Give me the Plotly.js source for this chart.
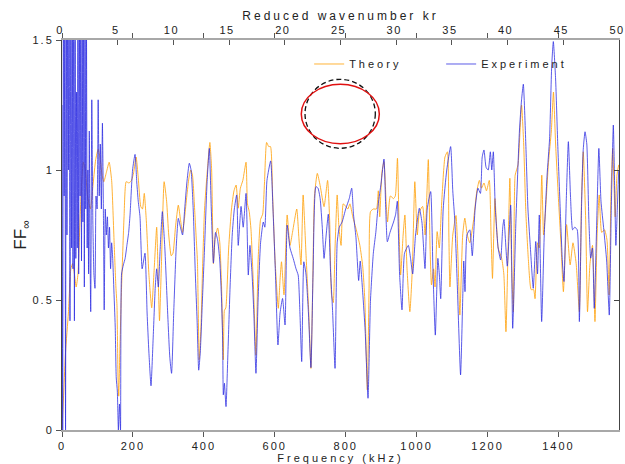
<!DOCTYPE html>
<html>
<head>
<meta charset="utf-8">
<script src="https://cdn.plot.ly/plotly-3.0.1.min.js"></script>
<style>
  body { margin: 0; padding: 0; background: #fff; }
  #chart { width: 625px; height: 464px; }
  .xtick text, .ytick text { letter-spacing: 2px; }
  .x2tick text { letter-spacing: 1.5px; }
  .g-xtitle text, .g-x2title text { letter-spacing: 3px; }
  .legendtext { letter-spacing: 3px; }
</style>
</head>
<body>
<div id="chart"></div>
<script>
// Theory curve (frequency in kHz, FF∞)
const theoryFreq = [0,5,10,18,25,30,35,40,45,52,60,66,72,80,88,95,102,108,113,118,125,133,140,147,152,155,158,160,163,168,175,181,189,196,202,209,215,222,227,232,238,245,253,260,267,271,275,280,288,295,301,308,313,320,328,334,340,346,352,358,363,368,374,380,382,387,392,397,402,410,417,422,427,432,439,445,450,455,458,462,470,478,485,491,497,503,510,519,523,528,533,540,547,553,560,566,571,577,583,588,594,601,610,615,619,626,635,643,650,662,668,674,680,688,696,702,707,712,720,728,739,749,755,760,765,770,776,781,787,793,800,806,812,820,830,840,848,854,861,866,870,878,887,892,896,902,908,914,918,926,935,940,946,951,955,962,967,973,981,988,995,1002,1008,1017,1024,1033,1038,1042,1048,1052,1058,1064,1071,1080,1087,1091,1094,1102,1111,1117,1122,1130,1136,1143,1150,1160,1170,1177,1183,1190,1197,1205,1210,1214,1221,1230,1240,1246,1252,1258,1263,1268,1273,1278,1286,1296,1302,1308,1315,1323,1330,1334,1341,1346,1353,1358,1363,1372,1380,1386,1392,1400,1407,1414,1423,1433,1441,1450,1459,1465,1470,1477,1482,1489,1496,1503,1509,1515,1522,1530,1537,1543,1548,1553,1560,1565,1570];
const theoryFF = [0,0.15,0.3,0.45,0.62,0.64,0.6,0.55,0.6,0.85,1.03,1.0,0.9,0.85,0.95,1.04,1.08,1.04,0.98,0.955,0.99,1.03,0.96,0.72,0.55,0.48,0.2,0.13,0.3,0.55,0.82,0.955,0.95,0.96,0.99,1.05,0.97,0.86,0.85,0.91,0.8,0.6,0.47,0.62,0.78,0.6,0.42,0.62,0.955,0.88,0.75,0.67,0.68,0.78,0.865,0.81,0.76,0.82,0.9,0.97,1.0,0.98,0.85,0.7,0.647,0.27,0.4,0.65,0.85,1.0,1.106,1.0,0.64,0.74,0.777,0.72,0.55,0.27,0.46,0.47,0.7,0.85,0.92,0.942,0.853,0.93,0.96,1.03,0.87,0.84,0.77,0.55,0.288,0.65,0.81,0.83,0.95,1.106,1.09,1.09,0.9,0.65,0.468,0.58,0.647,0.52,0.827,0.71,0.76,0.85,0.74,0.635,0.904,0.68,0.45,0.237,0.55,0.9,0.987,0.94,0.859,0.96,0.8,0.52,0.49,0.7,0.904,0.78,0.71,0.87,0.86,0.85,0.87,0.82,0.77,0.71,0.63,0.5,0.154,0.55,0.84,0.85,0.85,0.92,0.82,0.99,1.032,0.88,0.8,0.9,0.89,0.9,1.045,0.75,0.596,0.75,0.827,0.62,0.455,0.62,0.955,0.75,0.84,0.86,0.75,1.04,0.7,0.558,0.62,0.55,0.763,0.7,0.88,1.05,1.07,0.75,0.55,0.75,0.825,0.65,0.442,0.75,0.815,0.75,0.72,0.8,0.92,0.96,0.93,0.95,0.92,0.96,0.75,0.583,0.89,0.7,0.66,0.6,0.378,0.7,0.968,0.62,0.455,0.98,1.02,1.25,1.1,0.84,0.66,0.54,0.54,0.505,0.72,0.7,0.98,0.75,0.83,1.03,1.15,1.3,1.1,0.89,0.72,0.532,0.79,0.635,0.72,0.64,0.455,0.88,1.07,0.8,0.455,0.64,0.71,0.417,0.75,0.904,0.76,0.77,0.73,0.519,0.9,1.083,0.82,0.98,1.02];

// Experiment curve (frequency in kHz, FF∞)
const experimentFreq = [0,2,4,6,8,10,12,14,16,18,20,22.5,25,27,29,31,33,35,37,39,41,43,45,47,49,51,53,55,57,59,61,63,65,67,69,71,73,75,77,79,81,84,87,90,93,96,99,102,105,108,111,114,117,119,122,125,128,131,134,137,140,143,146,150,153,156,159,162,165,168,173,178,183,188,192,199,206,211,215,220,226,234,240,245,251,257,263,267,271.6,277,283,290,298,304,309,315,322,328,334,340,346,352,359,364,370,376,381,385.5,390,396,402,409,415.5,421,427,433,439,445,450,453,455,458,462.5,468,474,480,486,492.6,497,505,511,519,525.4,530,536,541,547,553,560,567.7,572,578,588.5,595,602,609,615,622,629,635,643,652,660,666,671,676,682,688,695,702,708,716,722,728,734,739,745,751,757,763,770,776,782,790,800,810,817,822,829,836.6,841,848,855,863,870,878,885,892,900,908,913,917.5,925,935,941,945.6,952,958.8,966,976.7,983,989,997,1007.7,1015,1023.7,1030,1039.7,1046,1052.8,1060,1064,1068,1075,1085,1096,1102,1108,1115,1124,1130,1133,1136.5,1142,1150,1157,1165,1173,1180,1185,1190,1196,1202,1208,1212,1216.4,1222,1230,1237,1243,1246.4,1255.8,1265.3,1271,1280,1290,1296,1301,1308,1314,1320,1329,1336,1341,1346,1352.7,1360,1368,1375,1381,1385.6,1392,1398,1405,1411,1415.6,1422,1428,1434,1440,1446,1453,1459,1465,1470,1475,1480,1486,1491,1496,1501,1508,1514,1520,1528,1536,1543.4,1549,1554.8,1559,1562,1566,1570];
const experimentFF = [1.25,0,1.8,0.9,1.7,0,1.9,0.75,1.7,1.0,2.0,0.42,1.8,0.7,1.65,0.62,1.9,0.42,1.75,0.66,1.3,0.7,1.8,0.6,1.6,0.9,1.7,0.65,1.55,0.8,1.7,0.55,1.6,0.85,1.55,0.7,1.0,0.6,1.15,0.7,0.455,1.27,0.8,0.6,0.545,0.9,0.85,1.27,0.9,1.1,0.85,1.18,0.8,0.462,0.85,0.75,0.82,0.7,0.78,0.62,0.72,0.66,0.55,0.4,0.2,0.15,0,0.1,0,0.6,0.635,0.66,0.71,0.76,0.83,1.0,1.06,0.95,0.88,0.82,0.62,0.68,0.45,0.3,0.17,0.35,0.55,0.62,0.55,0.7,0.84,0.7,0.45,0.28,0.218,0.45,0.7,0.814,0.78,0.75,0.85,0.95,1.026,1.0,0.85,0.6,0.42,0.23,0.3,0.5,0.7,0.95,1.083,0.85,0.642,0.76,0.73,0.65,0.5,0.35,0.135,0.18,0.09,0.3,0.55,0.75,0.85,0.904,0.71,0.86,0.78,0.91,0.596,0.71,0.6,0.45,0.218,0.5,0.72,0.8,0.78,0.96,1.035,0.85,0.6,0.327,0.45,0.506,0.404,0.788,0.7,0.66,0.62,0.596,0.45,0.263,0.647,0.6,0.45,0.24,0.6,0.936,0.93,0.89,0.78,0.66,0.75,0.83,0.62,0.46,0.237,0.72,0.78,0.8,0.85,0.89,0.93,0.83,0.74,0.575,0.65,0.53,0.38,0.122,0.5,0.68,0.76,0.87,0.95,1.042,0.85,0.724,0.76,0.8,0.83,0.88,0.6,0.462,0.68,0.71,0.66,0.6,0.75,0.853,0.8,0.621,0.85,0.917,0.62,0.365,0.66,0.6,0.505,0.85,1.0,1.09,0.92,0.8,0.55,0.212,0.5,0.65,0.532,0.75,0.77,0.67,0.85,0.93,0.91,1.05,1.077,1.01,1.0,1.07,1.0,1.07,0.85,0.7,0.654,0.78,0.81,0.63,0.865,0.391,0.8,1.15,1.27,1.33,1.1,0.85,0.72,0.545,0.725,0.6,0.827,0.417,0.75,0.98,1.12,1.4,1.494,1.35,1.1,0.85,0.65,0.571,0.88,1.109,0.9,0.77,0.78,0.77,0.417,0.85,1.08,1.147,1.1,0.8,0.661,0.7,0.468,0.8,1.083,0.88,0.77,0.65,0.442,0.85,1.173,0.9,0.71,0.85,1.0];

// Axis tick settings
const freqTicks = [0,200,400,600,800,1000,1200,1400];
const krTicks = [0,5,10,15,20,25,30,35,40,45,50];
const ffTicks = [0,0.5,1,1.5];
const freqMax = 1570.8;   // kHz, corresponds to kr = 50
const krMax = 50;

const font = "'Liberation Sans', Arial, sans-serif";

const traces = [
  {
    x: theoryFreq, y: theoryFF, type: 'scatter', mode: 'lines', name: 'Theory',
    line: { color: 'rgba(255,165,20,0.85)', width: 1, shape: 'spline', smoothing: 0.5 },
    hoverinfo: 'skip'
  },
  {
    x: experimentFreq, y: experimentFF, type: 'scatter', mode: 'lines', name: 'Experiment',
    line: { color: 'rgba(45,45,225,0.78)', width: 1, shape: 'spline', smoothing: 0.5 },
    hoverinfo: 'skip'
  },
  {
    // invisible helper so the top (kr) and right axes are drawn
    x: krTicks, y: krTicks.map(() => null), xaxis: 'x2', yaxis: 'y2',
    type: 'scatter', mode: 'lines', showlegend: false, hoverinfo: 'skip'
  }
];

const layout = {
  width: 625, height: 464,
  margin: { l: 62, r: 6, t: 40, b: 34, pad: 0 },
  paper_bgcolor: '#fff', plot_bgcolor: '#fff',
  font: { family: font, size: 11, color: '#222' },
  showlegend: true,
  legend: {
    orientation: 'h', x: 0.4437, y: 0.9385, xanchor: 'left', yanchor: 'middle',
    bgcolor: 'rgba(0,0,0,0)', borderwidth: 0,
    font: { family: font, size: 11, color: '#222' },
    entrywidth: 87, entrywidthmode: 'pixels', tracegroupgap: 0
  },
  xaxis: {
    range: [0, freqMax], tickvals: freqTicks, ticktext: freqTicks.map(String),
    ticks: 'outside', ticklen: 5, tickcolor: '#555', tickwidth: 1,
    showline: true, linecolor: '#a8a8a8', linewidth: 2, mirror: 'ticks',
    showgrid: false, zeroline: false,
    tickfont: { family: font, size: 11, color: '#222' },
    title: { text: 'Frequency (kHz)', font: { family: font, size: 11, color: '#222' }, standoff: 2 }
  },
  xaxis2: {
    overlaying: 'x', side: 'top', anchor: 'y',
    range: [0, krMax], tickvals: krTicks, ticktext: krTicks.map(String),
    ticks: 'inside', ticklen: 5, tickcolor: '#555', tickwidth: 1,
    ticklabeloverflow: 'allow', ticklabelshift: -2,
    showline: true, linecolor: '#a8a8a8', linewidth: 2,
    showgrid: false, zeroline: false,
    tickfont: { family: font, size: 11, color: '#222' },
    title: { text: 'Reduced wavenumber kr', font: { family: font, size: 12, color: '#222' }, standoff: 0 }
  },
  yaxis: {
    range: [0, 1.5], tickvals: ffTicks, ticktext: ['0', '0.5', '1', '1.5'],
    ticks: 'outside', ticklen: 5, tickcolor: '#555', tickwidth: 1,
    showline: true, linecolor: '#444', linewidth: 1,
    showgrid: false, zeroline: false,
    tickfont: { family: font, size: 11, color: '#222' },
    title: { text: 'FF<sub>∞</sub>', font: { family: font, size: 17, color: '#222' }, standoff: 1 }
  },
  yaxis2: {
    overlaying: 'y', side: 'right', anchor: 'x',
    range: [0, 1.5], tickvals: [0.5, 1],
    ticks: 'inside', ticklen: 5, tickcolor: '#444', tickwidth: 1,
    showticklabels: false,
    showline: true, linecolor: '#444', linewidth: 1,
    showgrid: false, zeroline: false
  },
  shapes: [
    { type: 'circle', xref: 'paper', yref: 'paper',
      x0: 0.4363, x1: 0.5625, y0: 0.7223, y1: 0.8992,
      line: { color: '#111', width: 1.3, dash: '5px,3px' } },
    { type: 'circle', xref: 'paper', yref: 'paper',
      x0: 0.4296, x1: 0.5697, y0: 0.7341, y1: 0.8864,
      line: { color: '#e01010', width: 1.5 } }
  ]
};

Plotly.newPlot('chart', traces, layout, { displayModeBar: false, staticPlot: true });
</script>
</body>
</html>
